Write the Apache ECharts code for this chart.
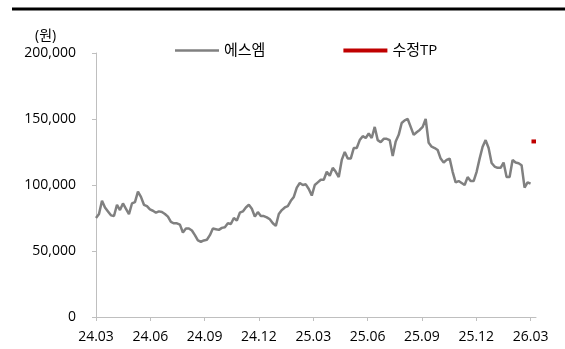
<!DOCTYPE html>
<html>
<head>
<meta charset="utf-8">
<script src="https://cdn.jsdelivr.net/npm/echarts@6/dist/echarts.min.js"></script>
<style>
html, body { margin: 0; background: #fff; }
#main { width: 565px; height: 349px; }
</style>
</head>
<body>
<div id="main"></div>
<script>
// 에스엠 주가 (천원), 24.03 ~ 26.03, 거의 주 단위
const price2024 = [75, 78, 88, 83, 80, 77, 76.5, 85, 81, 86, 82, 78, 86, 87, 95, 91, 85, 84, 81.5, 80.5,
    79, 80, 79.5, 78, 76, 72, 71, 71, 70, 64, 67, 67, 65.5, 62, 58, 57, 58, 58.5, 62, 67,
    66.5, 66, 67.5, 68, 71, 70.5, 75, 73, 79];
const price2025a = [80, 83, 85, 82, 76, 79.5, 76.5, 76.5, 75.5, 74, 71, 69, 78, 81, 83, 84, 88, 91, 98, 101.5,
    100, 100.5, 97, 92, 100, 102, 104, 104, 110, 107, 113, 110, 106, 119, 125, 120, 120, 128, 128, 134,
    137, 135.6, 139, 135.6, 144, 134, 132.5, 135, 135];
const price2025b = [134, 122, 133, 138, 147, 149, 150, 144, 138, 140, 141.7, 144, 150, 132, 129, 128, 126.5, 120, 117, 119,
    120, 110, 102, 103, 101.5, 100, 106, 103, 103, 110, 120, 129, 134, 128, 116.7, 114, 113, 113, 117, 106,
    106, 119, 117, 116.5, 115, 98, 102, 101];

// 수정 목표주가
const tpValue = 133000;
const tpMonths = [24.05, 24.3];

// x축: 24.03 부터의 개월 수
const tickMonths = [0, 3, 6, 9, 12, 15, 18, 21, 24];
const tickLabels = ['24.03', '24.06', '24.09', '24.12', '25.03', '25.06', '25.09', '25.12', '26.03'];

const prices = price2024.concat(price2025a, price2025b).map(v => v * 1000);
const step = 24 / (prices.length - 1);
const priceData = prices.map((v, i) => [i * step, v]);
const tpData = tpMonths.map(m => [m, tpValue]);

const font = '"Open Sans", "Noto Sans CJK KR", sans-serif';

const chart = echarts.init(document.getElementById('main'));

const option = {
    animation: false,
    backgroundColor: '#fff',
    textStyle: { fontFamily: font },
    title: {
        text: '(원)',
        left: 30,
        top: 24,
        textStyle: { fontSize: 14, fontWeight: 'normal', color: '#000', fontFamily: font }
    },
    graphic: [
        {
            type: 'line',
            shape: { x1: 12, y1: 9, x2: 565, y2: 9 },
            style: { stroke: '#000', lineWidth: 3 }
        }
    ],
    legend: {
        left: 170,
        top: 38,
        itemWidth: 44,
        itemHeight: 4,
        itemGap: 78,
        symbolKeepAspect: true,
        textStyle: { fontSize: 15, color: '#000', fontFamily: font },
        data: [
            { name: '에스엠', icon: 'path://M0,0H44V2.5H0Z' },
            { name: '수정TP', icon: 'path://M0,0H44V4H0Z' }
        ]
    },
    grid: { left: 96, right: 29, top: 53, bottom: 32 },
    xAxis: {
        type: 'value',
        min: 0,
        max: 24.3,
        splitLine: { show: false },
        axisLine: { lineStyle: { color: '#bfbfbf', width: 1 } },
        axisTick: { customValues: tickMonths, length: 4, lineStyle: { color: '#bfbfbf' } },
        axisLabel: {
            customValues: tickMonths,
            margin: 13,
            fontSize: 14,
            color: '#000',
            formatter: v => tickLabels[tickMonths.indexOf(v)] || ''
        }
    },
    yAxis: {
        type: 'value',
        min: 0,
        max: 200000,
        interval: 50000,
        splitLine: { show: false },
        axisLine: { show: true, lineStyle: { color: '#bfbfbf', width: 1 } },
        axisTick: { show: true, length: 4, lineStyle: { color: '#bfbfbf' } },
        axisLabel: {
            margin: 20,
            fontSize: 14,
            color: '#000',
            formatter: v => v.toLocaleString('en-US')
        }
    },
    series: [
        {
            name: '에스엠',
            type: 'line',
            data: priceData,
            showSymbol: false,
            symbol: 'none',
            lineStyle: { color: '#808080', width: 2.5 },
            itemStyle: { color: '#808080' }
        },
        {
            name: '수정TP',
            type: 'line',
            data: tpData,
            showSymbol: false,
            symbol: 'none',
            clip: false,
            lineStyle: { color: '#c00000', width: 4 },
            itemStyle: { color: '#c00000' }
        }
    ]
};

chart.setOption(option);
</script>
</body>
</html>
